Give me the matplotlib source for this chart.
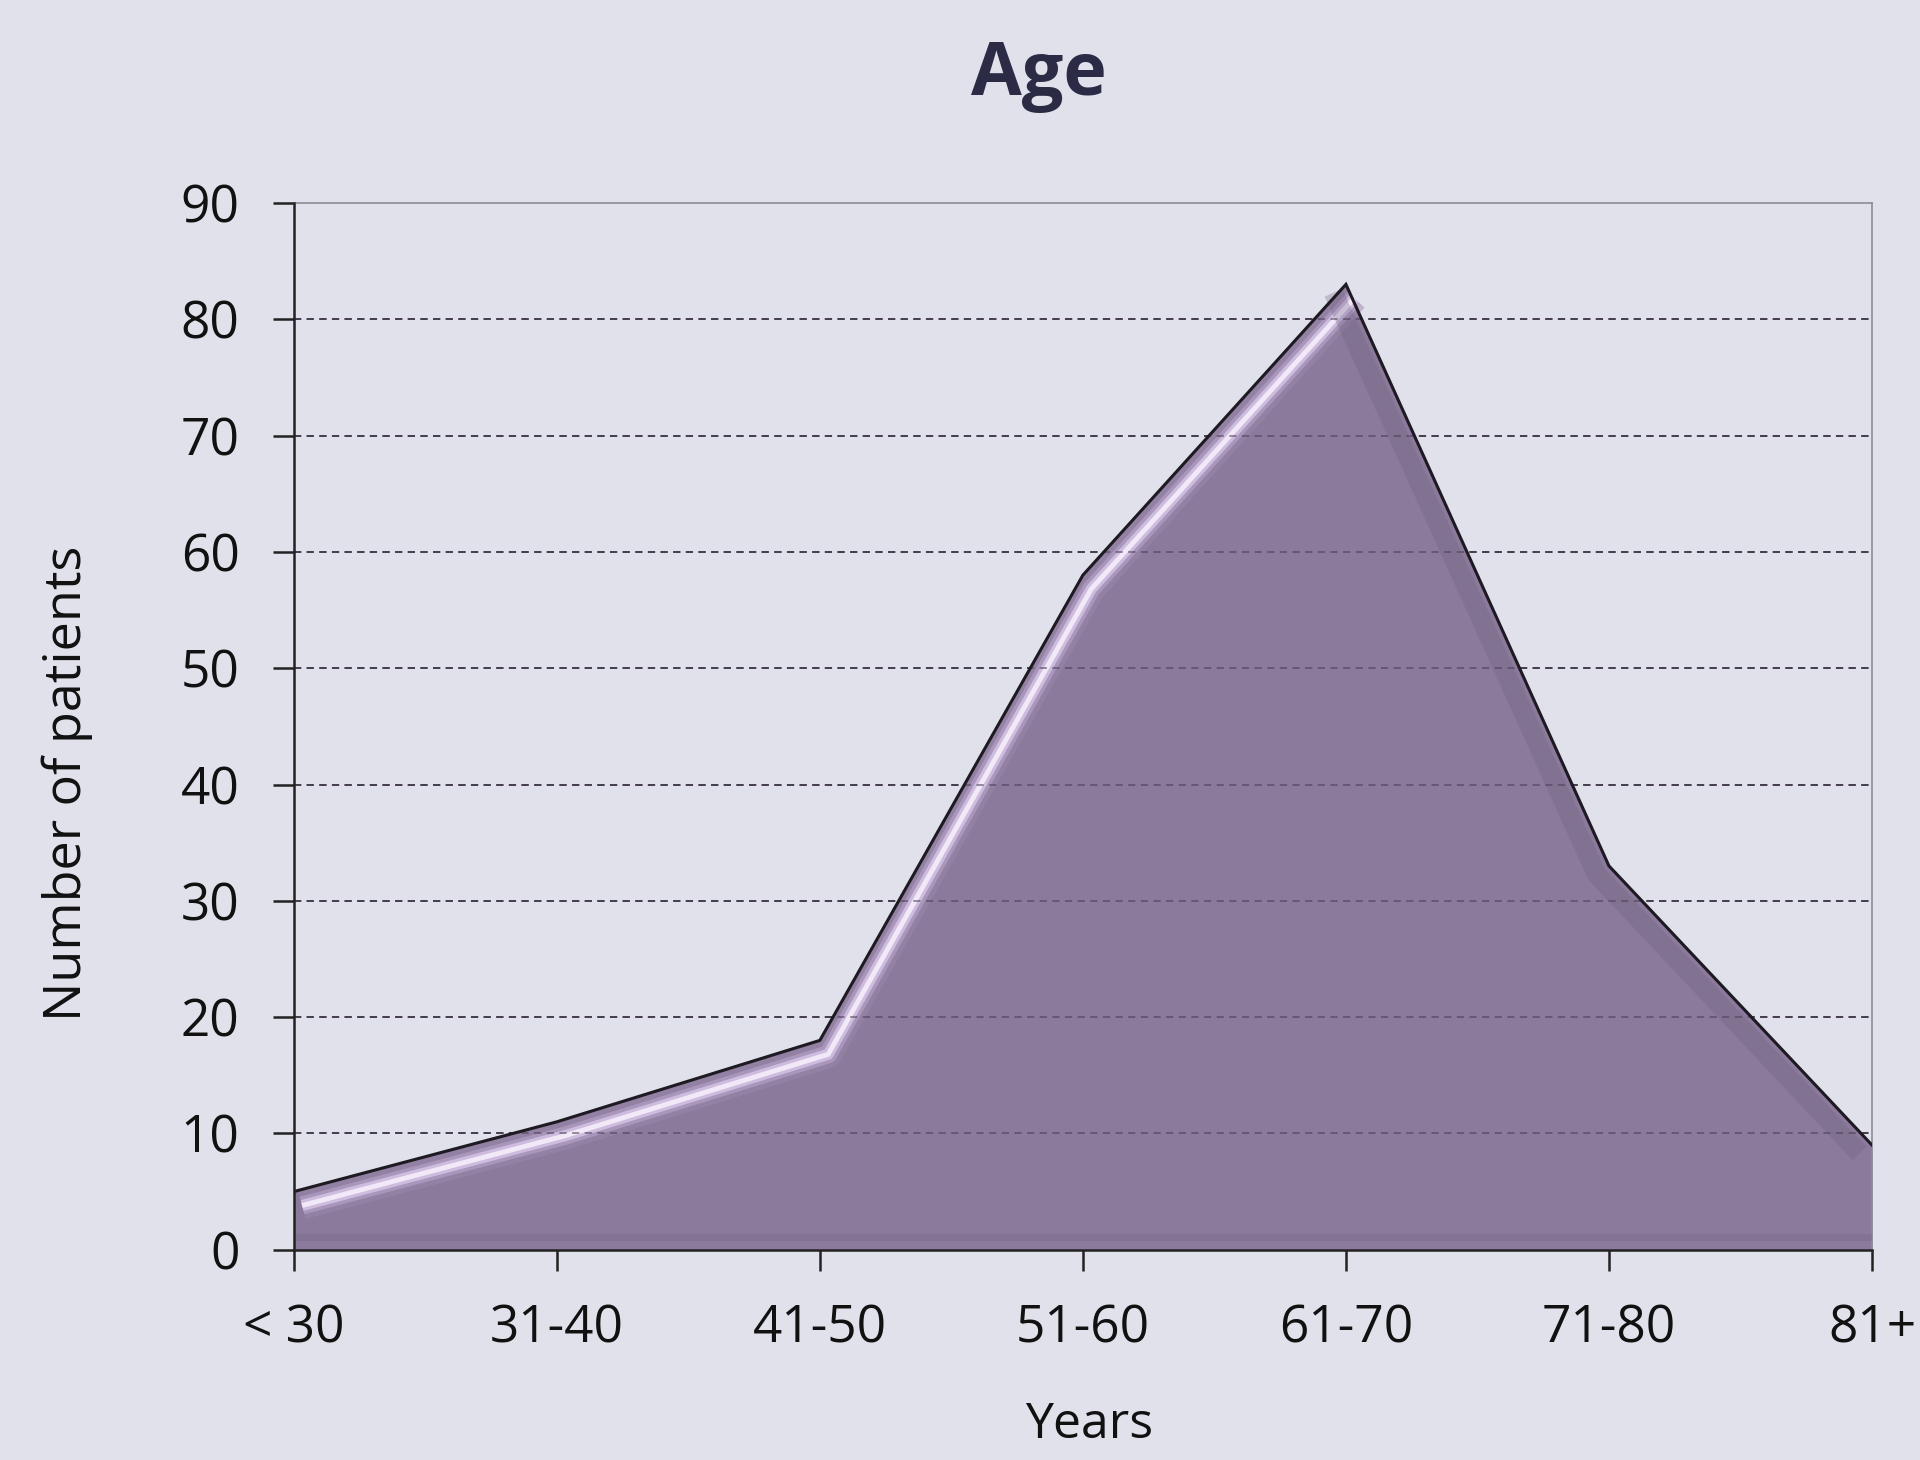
import matplotlib.pyplot as plt
import matplotlib.transforms as mtransforms
import numpy as np

# data
age_groups = ["< 30", "31-40", "41-50", "51-60", "61-70", "71-80", "81+"]
patients = [5, 11, 18, 58, 83, 33, 9]
y_ticks = [0, 10, 20, 30, 40, 50, 60, 70, 80, 90]

BG = "#E1E1EC"
FILL = "#8B7A9B"
TEXT = "#111111"

plt.rcParams["font.family"] = ["Open Sans", "DejaVu Sans"]

fig = plt.figure(figsize=(19.2, 14.6), dpi=100, facecolor=BG)
ax = fig.add_axes([0.153, 0.144, 0.822, 0.717], facecolor=BG)

x = np.arange(len(age_groups))
ax.fill_between(x, 0, patients, color=FILL, zorder=2, linewidth=0)
ax.plot(x, patients, color="#1E1A22", lw=2.2, zorder=4, solid_joinstyle="miter")

# bevel: soft highlight along the rising edge, darker shade along falling edge / bottom
peak = int(np.argmax(patients))
hi = mtransforms.offset_copy(ax.transData, fig=fig, x=6, y=-10, units="points")
for lw, col, a in [(20, "#9C89AE", 0.5), (13, "#B9A5CC", 0.6),
                   (8, "#D8C6E8", 0.8), (3.5, "#F6EEFB", 0.9)]:
    ax.plot(x[:peak + 1], patients[:peak + 1], color=col, lw=lw, alpha=a,
            transform=hi, zorder=3, solid_capstyle="butt")
sh = mtransforms.offset_copy(ax.transData, fig=fig, x=-9, y=-6, units="points")
ax.plot(x[peak:], patients[peak:], color="#6F6180", lw=14, alpha=0.3,
        transform=sh, zorder=3, solid_capstyle="butt")
bt = mtransforms.offset_copy(ax.transData, fig=fig, x=0, y=9, units="points")
ax.plot([0, len(x) - 1], [0, 0], color="#766884", lw=5, alpha=0.35,
        transform=bt, zorder=3)

ax.set_xlim(0, len(x) - 1)
ax.set_ylim(0, 90)
ax.set_xticks(x)
ax.set_xticklabels(age_groups)
ax.set_yticks(y_ticks)

for v in y_ticks[1:-1]:
    ax.axhline(v, color="#333333", lw=1.3, ls=(0, (4, 3)), zorder=1)
    ax.axhline(v, color="#4A3F58", lw=1.3, ls=(0, (4, 3)), alpha=0.6, zorder=3)

for s in ["top", "right"]:
    ax.spines[s].set_color("#8C8C96")
    ax.spines[s].set_linewidth(1.2)
for s in ["left", "bottom"]:
    ax.spines[s].set_color("#222222")
    ax.spines[s].set_linewidth(1.8)
    ax.spines[s].set_zorder(5)

ax.tick_params(axis="both", direction="out", length=15, width=1.8,
               colors="#222222", labelcolor=TEXT, labelsize=37)
ax.tick_params(axis="y", pad=24)
ax.tick_params(axis="x", pad=24)

fig.text(0.541, 0.948, "Age", fontsize=53, fontweight="bold", color="#2B2B45",
         ha="center", va="center")
ax.set_xlabel("Years", fontsize=36, color=TEXT)
ax.set_ylabel("Number of patients", fontsize=37.5, color=TEXT)
ax.xaxis.set_label_coords(0.504, -0.168)
ax.yaxis.set_label_coords(-0.1435, 0.446)
ax.xaxis.label.set_va("center")
ax.yaxis.label.set_va("center")

fig.savefig("out.png", dpi=100, facecolor=BG)
